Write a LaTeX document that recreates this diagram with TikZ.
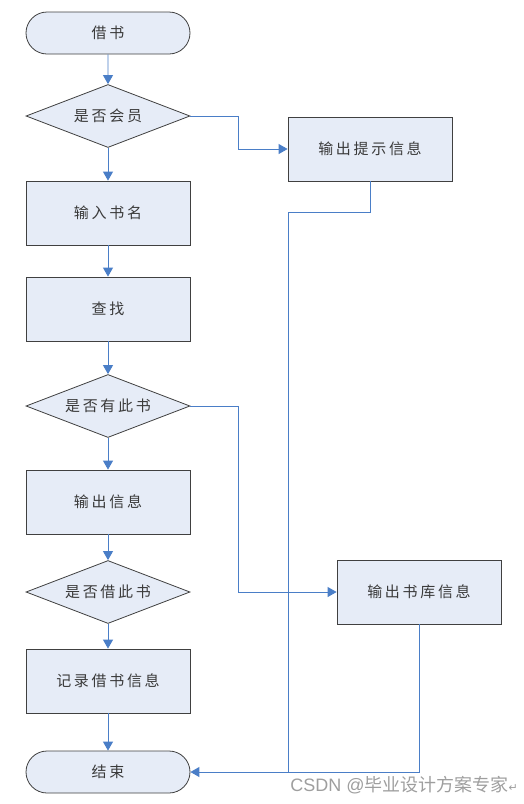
\documentclass[tikz,border=0pt]{standalone}
\usepackage{fontspec}
\setmainfont{Liberation Sans}
\newfontfamily\cjk[LetterSpace=18]{Noto Sans CJK SC}
\newfontfamily\cjkwm{Noto Sans CJK SC}
\newfontfamily\dejavu{DejaVu Sans}
\usetikzlibrary{shapes.geometric,shapes.misc,arrows.meta}
\definecolor{boxfill}{HTML}{E6ECF7}
\definecolor{boxline}{HTML}{404040}
\definecolor{flow}{HTML}{4A7EC7}
\definecolor{txt}{HTML}{3A3A3A}
\tikzset{
  x=1pt,y=-1pt,
  lbl/.style={font=\cjk\fontsize{15}{17}\selectfont,text=txt},
  base/.style={draw=boxline,fill=boxfill,line width=0.8pt,lbl,inner sep=0pt},
  procbox/.style={base,rectangle,minimum width=164pt,minimum height=64pt},
  termbox/.style={base,rounded rectangle,minimum width=164pt,minimum height=42pt},
  decbox/.style={base,diamond,aspect=2.6,minimum width=164pt,minimum height=63pt},
  arr/.style={draw=flow,line width=0.9pt,-{Triangle[length=9pt,width=10pt]}},
  ln/.style={draw=flow,line width=0.8pt},
}
\begin{document}
\begin{tikzpicture}
\useasboundingbox (0,0) rectangle (524,804);
\node[termbox] (start) at (108,33) {借书};
\node[decbox] (d1) at (108,116) {};
\node[lbl] (t1) at (108,116) {是否会员};
\node[procbox] (tip) at (370,149) {输出提示信息};
\node[procbox] (input) at (108,213) {输入书名};
\node[procbox] (find) at (108,309) {查找};
\node[decbox] (d2) at (108,406) {};
\node[lbl] (t2) at (108,406) {是否有此书};
\node[procbox] (out) at (108,502) {输出信息};
\node[decbox] (d3) at (108,592) {};
\node[lbl] (t3) at (108,592) {是否借此书};
\node[procbox] (lib) at (419,592) {输出书库信息};
\node[procbox] (rec) at (108,681) {记录借书信息};
\node[termbox] (end) at (108,772) {结束};
\coordinate (j1) at (288,772);
\draw[arr] (start) -- (d1);
\draw[arr] (d1) -- (input);
\draw[arr] (input) -- (find);
\draw[arr] (find) -- (d2);
\draw[arr] (d2) -- (out);
\draw[arr] (out) -- (d3);
\draw[arr] (d3) -- (rec);
\draw[arr] (rec) -- (end);
\draw[arr] (d1.east) -- (238,116) -- (238,149) -- (tip.west);
\draw[arr] (d2.east) -- (238,406) -- (238,592) -- (lib.west);
\draw[ln] (tip.south) -- (370,212) -- (288,212) -- (j1);
\draw[ln] (lib.south) -- (419,772) -- (j1);
\draw[arr] (j1) -- (end.east);
\node[anchor=base east,text=black!38,font=\fontsize{18}{20}\selectfont,inner sep=0pt] (wm) at (518,791) {CSDN @{\cjkwm 毕业设计方案专家}{\dejavu\fontsize{11}{12}\selectfont ↵}};
\end{tikzpicture}
\end{document}
